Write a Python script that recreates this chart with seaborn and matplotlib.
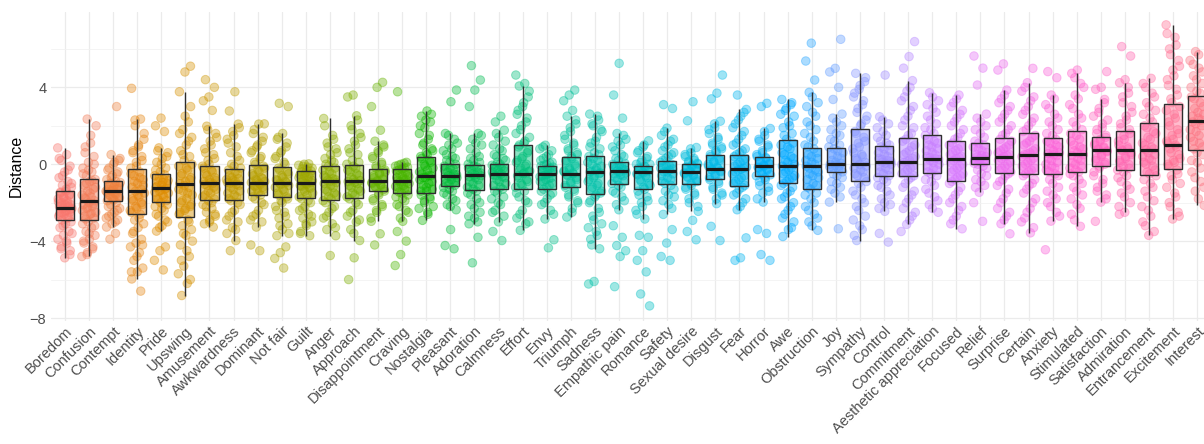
import math
import numpy as np
import pandas as pd
import matplotlib
matplotlib.use("Agg")
import matplotlib.pyplot as plt
from matplotlib.ticker import FixedLocator
import seaborn as sns

# Emotion categories, ordered by median distance
emotions = [
    "Boredom", "Confusion", "Contempt", "Identity", "Pride", "Upswing", "Amusement",
    "Awkwardness", "Dominant", "Not fair", "Guilt", "Anger", "Approach", "Disappointment",
    "Craving", "Nostalgia", "Pleasant", "Adoration", "Calmness", "Effort", "Envy",
    "Triumph", "Sadness", "Empathic pain", "Romance", "Safety", "Sexual desire", "Disgust",
    "Fear", "Horror", "Awe", "Obstruction", "Joy", "Sympathy", "Control", "Commitment",
    "Aesthetic appreciation", "Focused", "Relief", "Surprise", "Certain", "Anxiety",
    "Stimulated", "Satisfaction", "Admiration", "Entrancement", "Excitement", "Interest",
]

# Box summaries: whisker ends, quartiles and medians
whisker_low = [-4.87, -4.80, -3.27, -5.97, -3.48, -6.83, -3.27, -3.97, -3.27, -3.72, -3.72, -3.72,
               -3.97, -2.97, -2.97, -2.92, -2.37, -3.10, -3.00, -3.44, -2.85, -2.75, -4.40, -2.37,
               -2.85, -2.61, -2.45, -2.05, -2.37, -1.97, -3.76, -3.44, -1.97, -3.97, -2.45, -3.13,
               -2.50, -3.36, -1.46, -3.10, -3.57, -2.96, -3.23, -1.97, -2.50, -3.70, -2.85, -2.14]
lower_quartile = [-2.89, -2.89, -1.93, -2.57, -1.95, -2.75, -1.88, -1.88, -1.58, -1.70, -1.77, -1.88,
                  -1.77, -1.39, -1.50, -1.50, -1.15, -1.32, -1.27, -1.27, -1.27, -1.18, -1.57, -1.01,
                  -1.27, -1.01, -1.01, -0.77, -1.15, -0.63, -0.97, -1.27, -0.42, -0.89, -0.63, -0.63,
                  -0.45, -0.89, 0.00, -0.45, -0.52, -0.52, -0.43, -0.07, -0.31, -0.54, -0.26, 0.73]
medians = [-2.26, -1.90, -1.37, -1.37, -1.22, -1.04, -0.99, -0.99, -0.99, -0.99, -0.96, -0.89,
           -0.89, -0.85, -0.85, -0.63, -0.61, -0.56, -0.49, -0.49, -0.49, -0.49, -0.40, -0.35,
           -0.40, -0.35, -0.40, -0.23, -0.23, -0.09, -0.10, -0.10, 0.00, 0.00, 0.14, 0.14,
           0.26, 0.26, 0.31, 0.38, 0.47, 0.52, 0.52, 0.73, 0.73, 0.73, 0.99, 2.26]
upper_quartile = [-1.37, -0.75, -0.87, -0.26, -0.52, 0.10, -0.10, -0.26, -0.05, -0.14, -0.37, -0.10,
                  -0.02, -0.26, -0.26, 0.38, 0.03, -0.05, 0.00, 0.99, -0.10, 0.38, 0.42, 0.10,
                  -0.10, 0.19, 0.00, 0.50, 0.50, 0.38, 1.25, 0.87, 0.87, 1.83, 0.97, 1.39,
                  1.51, 1.22, 1.13, 1.39, 1.65, 1.39, 1.74, 1.43, 1.74, 2.12, 3.11, 3.55]
whisker_high = [0.85, 2.35, 0.50, 2.35, 0.85, 3.77, 1.98, 2.09, 2.09, 1.60, 0.02, 2.38,
                2.52, 1.20, 0.10, 2.77, 1.60, 1.60, 1.77, 4.07, 0.99, 2.50, 2.61, 1.60,
                1.22, 1.88, 0.87, 2.24, 2.85, 1.86, 3.37, 3.74, 2.61, 4.73, 2.47, 4.35,
                3.72, 3.60, 2.61, 3.86, 4.24, 3.60, 4.73, 3.37, 4.24, 4.47, 7.25, 5.86]

# Individual distances per emotion
distances = [
    "0.85 0.5 0.2 -0.1 -0.4 -0.7 -0.9 -1.1 -1.2 -1.4 -1.5 -1.6 -1.7 -1.8 -1.9 -2.0 -2.1 -2.1 -2.2 -2.2 -2.3 -2.3 -2.4 -2.5 -2.5 -2.6 -2.7 -2.8 -2.9 -3.0 -3.1 -3.3 -3.5 -3.7 -3.9 -4.1 -4.3 -4.5 -4.87 "
    "0.3 -0.3 -0.6 -1.0 -1.3 -1.45 -1.6 -1.75 -1.95 -2.05 -2.15 -2.35 -2.45 -2.6 -2.75 -3.2 -3.6 -4.0 -4.4 -4.7",
    "2.35 2.0 1.1 0.6 0.4 0.1 -0.2 -0.4 -0.6 -0.8 -0.9 -1.1 -1.3 -1.4 -1.6 -1.7 -1.8 -1.9 -2.0 -2.1 -2.2 -2.3 -2.5 -2.6 -2.7 -2.8 -3.0 -3.1 -3.3 -3.5 -3.7 -3.9 -4.1 -4.3 -4.6 -4.8 "
    "1.5 0.9 0.0 -0.3 -0.5 -0.85 -1.0 -1.2 -1.5 -1.75 -2.05 -2.25 -2.4 -2.55 -2.85 -3.2 -3.6 -4.0 -4.4 -4.7",
    "3.0 0.5 0.3 0.1 -0.2 -0.4 -0.6 -0.8 -0.9 -1.0 -1.1 -1.2 -1.3 -1.3 -1.4 -1.4 -1.5 -1.6 -1.7 -1.8 -1.9 -2.0 -2.1 -2.3 -2.5 -2.7 -2.9 -3.1 -3.27 -3.6 -3.9 "
    "0.2 0.0 -0.3 -0.5 -0.7 -0.95 -1.05 -1.15 -1.25 -1.35 -1.45 -1.55 -1.65 -1.75 -1.85 -2.2 -2.4 -2.6 -2.8 -3.0",
    "3.95 2.35 2.3 1.3 0.9 0.6 0.4 0.1 -0.2 -0.4 -0.6 -0.8 -1.0 -1.2 -1.3 -1.4 -1.5 -1.7 -1.9 -2.1 -2.3 -2.5 -2.6 -2.9 -3.1 -3.3 -3.6 -3.9 -4.1 -4.3 -4.6 -5.0 -5.4 -5.6 -5.97 -6.6 "
    "2.0 1.6 1.0 0.7 0.2 -0.1 -0.5 -0.7 -0.9 -1.1 -1.6 -1.8 -2.0 -2.2 -2.4 -2.8 -3.5 -4.2 -4.8 -5.6",
    "2.4 2.0 1.7 0.85 0.6 0.3 0.1 -0.2 -0.4 -0.6 -0.8 -0.9 -1.0 -1.1 -1.2 -1.3 -1.4 -1.5 -1.6 -1.8 -1.9 -2.0 -2.2 -2.4 -2.7 -3.0 -3.2 -3.48 -4.3 -4.5 -5.0 -5.5 "
    "0.7 0.4 0.0 -0.3 -0.55 -0.7 -0.85 -0.95 -1.15 -1.25 -1.35 -1.45 -1.7 -1.85 -2.1 -2.3 -2.6 -2.9 -3.3",
    "5.1 4.8 3.77 2.2 1.8 1.4 1.0 0.7 0.4 0.2 -0.1 -0.3 -0.5 -0.7 -0.9 -1.0 -1.2 -1.4 -1.6 -1.8 -2.0 -2.2 -2.4 -2.6 -2.9 -3.2 -3.4 -3.7 -4.2 -4.8 -5.3 -5.7 -6.2 -6.83 "
    "3.0 2.5 1.6 1.2 0.5 0.0 -0.2 -0.6 -0.8 -1.1 -1.3 -1.5 -1.9 -2.1 -2.3 -2.5 -3.0 -3.6 -4.0 -4.5 -5.0 -6.0",
    "4.4 4.0 3.5 3.3 2.8 1.98 1.6 1.2 0.8 0.5 0.2 -0.1 -0.3 -0.5 -0.7 -0.8 -0.9 -1.0 -1.1 -1.3 -1.5 -1.6 -1.8 -1.9 -2.1 -2.3 -2.5 -2.7 -2.9 -3.1 -3.27 "
    "1.8 1.4 1.0 0.6 0.3 0.0 -0.2 -0.4 -0.6 -0.85 -0.95 -1.05 -1.2 -1.4 -1.7 -2.0 -2.2 -2.6 -3.0",
    "3.77 2.77 2.09 1.7 1.3 0.9 0.6 0.2 -0.1 -0.3 -0.5 -0.7 -0.8 -0.9 -1.0 -1.1 -1.3 -1.5 -1.7 -1.9 -2.1 -2.4 -2.7 -3.0 -3.3 -3.6 -3.97 -4.5 "
    "1.9 1.5 1.1 0.4 0.0 -0.2 -0.4 -0.6 -0.75 -0.85 -0.95 -1.05 -1.2 -1.4 -1.6 -1.8 -2.0 -2.5 -2.9 -3.4",
    "2.1 2.09 1.6 1.2 0.9 0.6 0.3 0.1 -0.1 -0.3 -0.5 -0.7 -0.8 -0.9 -1.0 -1.1 -1.2 -1.3 -1.4 -1.6 -1.8 -2.1 -2.4 -2.7 -3.0 -3.27 -4.2 -4.5 "
    "1.8 1.4 1.0 0.7 0.4 0.0 -0.2 -0.4 -0.6 -0.75 -0.85 -0.95 -1.05 -1.15 -1.3 -1.5 -1.7 -2.0 -2.6 -2.9",
    "3.17 3.0 1.6 1.3 0.9 0.6 0.3 0.1 -0.2 -0.4 -0.6 -0.8 -0.9 -1.0 -1.1 -1.3 -1.5 -1.7 -1.9 -2.2 -2.5 -2.8 -3.1 -3.4 -3.72 -4.3 -4.6 -4.9 -5.4 "
    "1.4 1.1 0.7 0.4 0.0 -0.3 -0.5 -0.7 -0.85 -0.95 -1.05 -1.2 -1.4 -1.6 -1.8 -2.0 -2.4 -2.7 -3.2 -3.6",
    "0.02 -0.1 -0.2 -0.3 -0.4 -0.5 -0.6 -0.7 -0.8 -0.9 -0.95 -1.0 -1.1 -1.2 -1.3 -1.5 -1.6 -1.8 -2.0 -2.2 -2.4 -2.6 -2.8 -3.0 -3.2 -3.5 -3.72 "
    "0.0 -0.05 -0.15 -0.25 -0.35 -0.45 -0.55 -0.65 -0.75 -0.85 -1.05 -1.15 -1.25 -1.4 -1.7 -1.9 -2.3 -2.7 -3.1 -3.6",
    "2.38 1.5 1.1 0.8 0.5 0.3 0.1 -0.1 -0.3 -0.5 -0.7 -0.8 -0.9 -1.0 -1.2 -1.4 -1.6 -1.8 -2.0 -2.2 -2.5 -2.8 -3.1 -3.4 -3.72 -4.75 "
    "2.0 1.3 0.9 0.6 0.2 0.0 -0.2 -0.4 -0.6 -0.75 -0.85 -0.95 -1.1 -1.3 -1.5 -1.7 -1.9 -2.3 -2.7 -3.3",
    "3.6 3.5 2.52 2.0 1.6 1.2 0.8 0.5 0.2 0.0 -0.2 -0.4 -0.6 -0.8 -0.9 -1.0 -1.2 -1.4 -1.6 -1.8 -2.1 -2.4 -2.7 -3.0 -3.4 -3.97 -4.87 -6.0 "
    "2.3 1.8 1.4 1.0 0.6 0.1 -0.1 -0.3 -0.5 -0.7 -0.85 -0.95 -1.1 -1.3 -1.5 -1.7 -2.0 -2.5 -2.9 -3.6",
    "4.26 4.0 3.0 1.77 1.2 0.9 0.6 0.3 0.0 -0.2 -0.4 -0.5 -0.7 -0.8 -0.9 -1.0 -1.1 -1.2 -1.4 -1.6 -1.9 -2.2 -2.5 -2.97 -3.62 -4.2 "
    "1.0 0.7 0.4 0.1 -0.1 -0.3 -0.45 -0.6 -0.75 -0.85 -0.95 -1.05 -1.15 -1.3 -1.5 -1.8 -2.1 -2.4 -2.8",
    "3.77 0.1 0.0 -0.1 -0.2 -0.3 -0.5 -0.6 -0.7 -0.8 -0.9 -1.0 -1.1 -1.2 -1.4 -1.5 -1.7 -1.9 -2.2 -2.5 -2.97 -3.5 -4.0 -4.7 -5.27 "
    "0.05 -0.05 -0.15 -0.25 -0.35 -0.45 -0.55 -0.65 -0.75 -0.85 -0.95 -1.05 -1.15 -1.3 -1.45 -1.6 -1.8 -2.1 -2.4 -2.8",
    "2.77 2.5 2.2 1.9 1.6 1.3 1.0 0.8 0.6 0.4 0.2 0.0 -0.2 -0.3 -0.5 -0.6 -0.7 -0.8 -1.0 -1.1 -1.3 -1.4 -1.6 -1.8 -2.0 -2.3 -2.6 -2.92 "
    "2.6 2.3 2.0 1.5 1.1 0.7 0.5 0.3 0.1 -0.1 -0.4 -0.6 -0.7 -0.9 -1.2 -1.4 -1.7 -1.9 -2.2 -2.5",
    "3.86 3.25 1.6 1.3 1.0 0.7 0.4 0.2 0.0 -0.2 -0.3 -0.5 -0.6 -0.7 -0.8 -1.0 -1.1 -1.3 -1.5 -1.8 -2.1 -2.37 -3.4 -4.23 -4.4 "
    "1.5 1.1 0.8 0.5 0.3 0.1 -0.1 -0.25 -0.4 -0.55 -0.65 -0.75 -0.9 -1.05 -1.2 -1.4 -1.6 -1.9 -2.2",
    "5.13 4.38 3.86 3.0 1.6 1.3 1.0 0.6 0.3 0.1 -0.1 -0.2 -0.4 -0.5 -0.6 -0.7 -0.9 -1.1 -1.3 -1.5 -1.8 -2.1 -2.5 -2.8 -3.1 -3.8 -5.13 "
    "1.5 1.1 0.8 0.4 0.2 0.0 -0.15 -0.3 -0.45 -0.55 -0.65 -0.8 -1.0 -1.2 -1.4 -1.6 -2.0 -2.3 -2.7 -3.0",
    "2.5 2.2 1.77 1.4 1.0 0.7 0.4 0.2 0.0 -0.1 -0.2 -0.3 -0.4 -0.5 -0.6 -0.7 -0.9 -1.1 -1.3 -1.5 -1.8 -2.1 -2.4 -2.7 -3.0 -3.5 -3.97 "
    "1.6 1.2 0.8 0.5 0.3 0.1 -0.05 -0.15 -0.25 -0.35 -0.45 -0.55 -0.65 -0.8 -1.0 -1.2 -1.4 -1.7 -2.0 -2.5",
    "4.64 4.2 4.07 3.5 3.0 2.6 2.2 1.8 1.4 1.1 0.9 0.6 0.3 0.1 -0.1 -0.3 -0.4 -0.5 -0.6 -0.8 -1.0 -1.2 -1.4 -1.7 -2.0 -2.4 -2.8 -3.1 -3.44 "
    "3.8 3.2 2.8 2.4 2.0 1.6 1.2 1.0 0.7 0.4 0.2 0.0 -0.2 -0.35 -0.45 -0.7 -0.9 -1.1 -1.5 -1.9 -2.6 -3.0",
    "0.99 0.8 0.5 0.3 0.1 0.0 -0.1 -0.2 -0.3 -0.4 -0.5 -0.6 -0.7 -0.8 -0.9 -1.1 -1.3 -1.5 -1.8 -2.1 -2.4 -2.85 -3.93 -4.35 "
    "0.9 0.7 0.4 0.2 0.05 -0.05 -0.15 -0.25 -0.35 -0.45 -0.55 -0.65 -0.75 -0.9 -1.0 -1.2 -1.4 -1.6 -2.0 -2.6",
    "3.86 3.6 3.3 2.8 2.5 2.1 1.7 1.3 1.0 0.7 0.5 0.3 0.1 -0.1 -0.3 -0.4 -0.5 -0.6 -0.8 -1.0 -1.2 -1.4 -1.7 -2.0 -2.3 -2.75 "
    "2.3 1.9 1.5 1.1 0.8 0.6 0.4 0.2 0.0 -0.2 -0.35 -0.45 -0.55 -0.7 -0.9 -1.1 -1.3 -1.6 -1.9 -2.5",
    "2.61 2.3 2.0 1.7 1.4 1.1 0.8 0.6 0.4 0.2 0.0 -0.1 -0.3 -0.4 -0.5 -0.7 -0.9 -1.1 -1.3 -1.5 -1.7 -2.0 -2.3 -2.7 -3.1 -3.5 -3.9 -4.4 -6.1 -6.23 "
    "2.5 2.1 1.8 1.2 0.9 0.5 0.3 0.1 -0.2 -0.35 -0.45 -0.6 -0.8 -1.0 -1.2 -1.4 -1.6 -1.9 -2.5 -2.9 -3.3 -3.7 -4.2",
    "5.25 3.6 2.4 1.6 1.3 1.0 0.7 0.4 0.2 0.0 -0.1 -0.2 -0.3 -0.4 -0.5 -0.6 -0.8 -1.0 -1.2 -1.5 -1.9 -2.37 -3.2 -3.8 -4.23 -4.5 -4.8 -6.37 "
    "1.5 1.2 0.9 0.5 0.3 0.05 -0.05 -0.15 -0.25 -0.35 -0.45 -0.55 -0.7 -0.9 -1.1 -1.4 -1.7 -2.1",
    "1.22 0.9 0.6 0.3 0.1 0.0 -0.1 -0.2 -0.3 -0.4 -0.5 -0.6 -0.8 -1.0 -1.2 -1.4 -1.7 -2.0 -2.4 -2.85 -3.7 -3.8 -4.5 -5.0 -5.6 -6.75 -7.37 "
    "1.0 0.7 0.4 0.2 0.0 -0.15 -0.25 -0.35 -0.45 -0.55 -0.7 -0.9 -1.1 -1.3 -1.6 -1.9 -2.2 -2.6",
    "3.1 2.9 1.88 1.5 1.2 0.9 0.6 0.4 0.2 0.0 -0.1 -0.2 -0.3 -0.4 -0.5 -0.7 -0.9 -1.1 -1.4 -1.7 -2.1 -2.61 -3.4 -4.1 -4.8 -5.0 "
    "1.7 1.3 1.0 0.7 0.5 0.3 0.1 -0.05 -0.15 -0.25 -0.4 -0.6 -0.8 -1.0 -1.3 -1.6 -1.9 -2.3",
    "3.25 2.26 0.87 0.6 0.4 0.2 0.1 0.0 -0.1 -0.2 -0.3 -0.4 -0.5 -0.6 -0.7 -0.9 -1.1 -1.3 -1.6 -2.0 -2.45 -2.92 -3.5 -3.93 "
    "0.8 0.5 0.3 0.15 0.05 -0.05 -0.15 -0.25 -0.35 -0.45 -0.55 -0.65 -0.8 -1.0 -1.2 -1.5 -1.8 -2.2",
    "4.64 3.7 3.4 2.24 1.9 1.6 1.3 1.0 0.8 0.6 0.4 0.2 0.1 -0.1 -0.2 -0.3 -0.4 -0.6 -0.8 -1.0 -1.3 -1.6 -2.05 -3.23 -3.97 "
    "2.1 1.8 1.4 1.1 0.9 0.7 0.5 0.3 0.15 0.0 -0.15 -0.25 -0.35 -0.5 -0.7 -0.9 -1.2 -1.5 -1.8",
    "3.6 2.85 2.5 2.1 1.7 1.3 1.0 0.7 0.5 0.3 0.1 -0.1 -0.2 -0.3 -0.5 -0.7 -0.9 -1.1 -1.3 -1.6 -2.0 -2.37 -3.83 -4.87 -5.0 "
    "2.7 2.3 1.9 1.5 1.1 0.8 0.6 0.4 0.2 0.0 -0.15 -0.25 -0.4 -0.6 -0.8 -1.0 -1.2 -1.5 -1.8 -2.2",
    "3.17 3.0 1.86 1.5 1.2 0.9 0.6 0.4 0.3 0.1 0.0 -0.1 -0.2 -0.3 -0.5 -0.6 -0.8 -1.1 -1.4 -1.97 -3.4 -3.6 -4.7 -5.0 "
    "1.7 1.3 1.0 0.7 0.5 0.35 0.2 0.05 -0.05 -0.15 -0.25 -0.4 -0.55 -0.7 -0.9 -1.2 -1.5 -1.8",
    "3.37 3.1 2.8 2.5 2.2 1.9 1.6 1.3 1.0 0.8 0.5 0.3 0.1 -0.1 -0.2 -0.4 -0.6 -0.8 -1.0 -1.2 -1.5 -1.8 -2.2 -2.6 -3.0 -3.4 -3.76 "
    "3.2 2.9 2.6 2.0 1.5 1.1 0.9 0.6 0.4 0.2 0.0 -0.3 -0.5 -0.7 -0.9 -1.1 -1.4 -1.7 -2.0 -2.4 -2.8 -3.3",
    "6.3 5.37 4.38 3.74 3.2 2.7 2.2 1.8 1.4 1.0 0.8 0.5 0.3 0.1 -0.1 -0.3 -0.5 -0.7 -1.0 -1.2 -1.5 -1.8 -2.2 -2.6 -3.0 -3.44 "
    "3.5 3.0 2.5 2.0 1.6 1.2 0.9 0.6 0.4 0.2 0.0 -0.2 -0.4 -0.6 -0.8 -1.1 -1.3 -1.6 -2.0 -2.4 -2.8 -3.2",
    "6.5 4.99 4.8 4.0 3.37 2.61 2.2 1.8 1.5 1.2 0.9 0.7 0.5 0.3 0.1 0.0 -0.1 -0.2 -0.4 -0.6 -0.9 -1.2 -1.5 -1.97 -3.36 "
    "2.4 2.0 1.6 1.3 1.0 0.8 0.6 0.4 0.2 0.05 -0.05 -0.15 -0.3 -0.5 -0.7 -1.0 -1.3 -1.7",
    "4.73 4.3 3.9 3.5 3.1 2.7 2.3 2.0 1.7 1.4 1.1 0.8 0.5 0.3 0.1 0.0 -0.2 -0.4 -0.6 -0.9 -1.2 -1.6 -2.0 -2.4 -2.9 -3.4 -3.97 "
    "4.5 4.1 3.7 3.3 2.9 2.5 2.1 1.6 1.2 0.9 0.6 0.4 0.2 -0.1 -0.3 -0.5 -0.7 -1.0 -1.4 -1.8 -2.2 -2.7 -3.2 -3.7",
    "4.64 2.47 2.1 1.7 1.4 1.1 0.9 0.7 0.5 0.3 0.2 0.1 0.0 -0.2 -0.4 -0.6 -0.8 -1.1 -1.4 -1.8 -2.1 -2.45 -3.6 -4.05 "
    "2.3 1.9 1.5 1.2 1.0 0.8 0.6 0.4 0.25 0.15 0.05 -0.1 -0.3 -0.5 -0.7 -0.9 -1.2 -1.6 -2.0 -2.3",
    "6.38 5.6 5.0 4.35 3.8 3.3 2.8 2.3 1.9 1.5 1.2 0.9 0.6 0.4 0.2 0.1 -0.1 -0.3 -0.5 -0.7 -1.0 -1.4 -1.8 -2.3 -2.7 -3.13 -3.5 "
    "4.0 3.5 3.0 2.5 2.0 1.6 1.3 1.0 0.7 0.5 0.3 0.15 0.0 -0.2 -0.4 -0.6 -0.8 -1.2 -1.6 -2.0 -2.5 -2.9",
    "3.72 3.3 2.9 2.5 2.1 1.8 1.5 1.2 1.0 0.8 0.6 0.4 0.3 0.2 0.0 -0.2 -0.4 -0.6 -0.9 -1.3 -1.7 -2.1 -2.5 "
    "3.5 3.1 2.7 2.3 1.9 1.6 1.3 1.1 0.9 0.7 0.5 0.35 0.25 0.1 -0.1 -0.3 -0.5 -0.8 -1.1 -1.5 -1.9 -2.3",
    "3.6 3.2 2.8 2.4 2.0 1.6 1.3 1.0 0.8 0.6 0.4 0.3 0.1 -0.1 -0.3 -0.5 -0.7 -0.9 -1.2 -1.6 -2.0 -2.4 -2.9 -3.36 "
    "3.4 3.0 2.6 2.2 1.8 1.4 1.1 0.9 0.7 0.5 0.35 0.2 0.0 -0.2 -0.4 -0.6 -0.8 -1.0 -1.4 -1.8 -2.2 -2.7 -3.1",
    "5.63 5.0 4.12 2.61 2.2 1.8 1.4 1.1 0.9 0.7 0.5 0.4 0.3 0.2 0.1 0.0 -0.2 -0.5 -0.8 -1.1 -1.46 -2.0 -2.97 "
    "2.4 2.0 1.6 1.2 1.0 0.8 0.6 0.45 0.35 0.25 0.15 0.05 -0.1 -0.3 -0.6 -0.9 -1.2",
    "5.22 4.9 3.86 3.4 3.0 2.6 2.2 1.8 1.5 1.2 0.9 0.7 0.5 0.4 0.2 0.0 -0.2 -0.4 -0.6 -0.9 -1.3 -1.8 -2.3 -2.7 -3.1 -3.62 "
    "3.6 3.2 2.8 2.4 2.0 1.6 1.3 1.0 0.8 0.6 0.45 0.3 0.1 -0.1 -0.3 -0.5 -0.8 -1.1 -1.5 -2.0 -2.5 -2.9",
    "4.99 4.24 3.8 3.3 2.8 2.4 2.0 1.7 1.4 1.1 0.8 0.6 0.5 0.3 0.1 -0.1 -0.3 -0.5 -0.8 -1.1 -1.5 -2.0 -2.5 -3.0 -3.57 "
    "4.0 3.5 3.0 2.6 2.2 1.8 1.5 1.2 1.0 0.7 0.55 0.4 0.2 0.0 -0.2 -0.4 -0.6 -1.0 -1.3 -1.8 -2.3 -2.8 -3.3",
    "4.82 4.5 3.6 3.1 2.6 2.2 1.8 1.5 1.2 1.0 0.8 0.6 0.5 0.3 0.1 -0.1 -0.3 -0.5 -0.8 -1.2 -1.6 -2.0 -2.5 -2.96 -4.45 "
    "3.4 2.9 2.4 2.0 1.6 1.3 1.1 0.9 0.7 0.55 0.45 0.2 0.0 -0.2 -0.4 -0.6 -1.0 -1.4 -1.8 -2.2 -2.7",
    "4.9 4.73 4.2 3.6 3.1 2.6 2.2 1.8 1.5 1.2 0.9 0.7 0.5 0.3 0.1 -0.1 -0.3 -0.5 -0.8 -1.2 -1.6 -2.1 -2.6 -3.23 "
    "4.5 4.0 3.4 2.9 2.4 2.0 1.6 1.3 1.0 0.8 0.6 0.45 0.2 0.0 -0.2 -0.4 -0.6 -1.0 -1.4 -1.8 -2.3 -2.9",
    "4.82 4.0 3.9 3.37 2.9 2.5 2.1 1.8 1.5 1.3 1.1 0.9 0.8 0.7 0.5 0.3 0.1 -0.1 -0.4 -0.8 -1.2 -1.6 -1.97 -2.97 "
    "3.2 2.7 2.3 1.9 1.6 1.4 1.2 1.0 0.85 0.75 0.65 0.4 0.2 0.0 -0.2 -0.6 -1.0 -1.4 -1.8",
    "6.12 5.63 4.4 4.24 3.7 3.2 2.7 2.3 1.9 1.6 1.3 1.0 0.8 0.7 0.5 0.3 0.1 -0.2 -0.4 -0.7 -1.1 -1.5 -2.0 -2.5 -2.6 "
    "4.0 3.5 3.0 2.5 2.1 1.8 1.5 1.2 0.9 0.75 0.6 0.4 0.2 0.0 -0.1 -0.3 -0.6 -0.9 -1.3 -1.7 -2.2",
    "4.47 4.0 3.5 3.0 2.6 2.2 1.9 1.6 1.3 1.0 0.8 0.6 0.4 0.2 0.0 -0.3 -0.5 -0.8 -1.2 -1.7 -2.2 -2.7 -3.2 -3.5 -3.7 "
    "4.2 3.7 3.2 2.8 2.4 2.0 1.7 1.4 1.1 0.9 0.75 0.5 0.3 0.1 -0.1 -0.4 -0.6 -1.0 -1.4 -1.9 -2.4 -3.0",
    "7.25 6.6 6.0 5.4 4.9 4.4 3.9 3.4 3.0 2.6 2.2 1.8 1.5 1.2 1.0 0.8 0.5 0.2 0.0 -0.3 -0.6 -1.0 -1.5 -2.0 -2.5 -2.85 "
    "6.8 6.2 5.7 5.1 4.6 4.1 3.6 3.2 2.8 2.4 2.0 1.6 1.3 1.1 0.9 0.6 0.3 0.1 -0.1 -0.5 -0.8 -1.2 -1.7 -2.2 -2.7",
    "5.86 5.4 5.0 4.6 4.2 3.8 3.5 3.2 2.9 2.6 2.4 2.2 2.0 1.7 1.4 1.1 0.8 0.5 0.1 -0.4 -0.9 -1.4 -2.14 "
    "5.7 5.2 4.8 4.4 4.0 3.7 3.4 3.0 2.7 2.5 2.3 2.1 1.8 1.5 1.2 0.9 0.6 0.2 -0.2 -0.7 -1.2 -1.8",
]


def hcl_hex(h, c=100.0, l=65.0):
    """Polar CIE-Luv (HCL) to sRGB hex, D65 white."""
    xn, yn, zn = 95.047, 100.0, 108.883
    un = 4 * xn / (xn + 15 * yn + 3 * zn)
    vn = 9 * yn / (xn + 15 * yn + 3 * zn)
    u_ = c * math.cos(math.radians(h))
    v_ = c * math.sin(math.radians(h))
    y = yn * ((l + 16) / 116) ** 3 if l > 8 else yn * l / 903.3
    u = u_ / (13 * l) + un
    v = v_ / (13 * l) + vn
    x = 9 * y * u / (4 * v)
    z = -x / 3 - 5 * y + 3 * y / v
    x, y, z = x / 100, y / 100, z / 100
    rgb_lin = [3.240479 * x - 1.537150 * y - 0.498535 * z,
               -0.969256 * x + 1.875992 * y + 0.041556 * z,
               0.055648 * x - 0.204043 * y + 1.057311 * z]
    out = []
    for ch in rgb_lin:
        ch = 12.92 * ch if ch <= 0.0031308 else 1.055 * ch ** (1 / 2.4) - 0.055
        out.append(min(max(ch, 0.0), 1.0))
    return "#%02x%02x%02x" % tuple(int(round(255 * ch)) for ch in out)


n = len(emotions)
palette = {e: hcl_hex(15 + 360 * i / n) for i, e in enumerate(emotions)}

# Long tables for the boxes and the points
box_df = pd.DataFrame({
    "emotion": np.repeat(emotions, 5),
    "distance": np.ravel(np.column_stack([whisker_low, lower_quartile, medians,
                                          upper_quartile, whisker_high])),
})

rows = []
for i, (e, s) in enumerate(zip(emotions, distances)):
    for k, val in enumerate(s.split()):
        offset = ((k * 0.6180339887 + i * 0.37) % 1.0 - 0.5) * 0.6
        rows.append((e, i + offset, float(val)))
pts_df = pd.DataFrame(rows, columns=["emotion", "xpos", "distance"])

sns.set_theme(style="whitegrid")
plt.rcParams["font.family"] = ["Liberation Sans", "DejaVu Sans"]

fig = plt.figure(figsize=(12.04, 4.44), dpi=100)
ax = fig.add_axes([50.5 / 1204, (444 - 320.5) / 444, 1161.1 / 1204, 308.5 / 444])

sns.boxplot(
    data=box_df, x="emotion", y="distance", hue="emotion", order=emotions,
    hue_order=emotions, palette=palette, saturation=1, legend=False, whis=np.inf,
    width=0.75, showcaps=False, showfliers=False, linewidth=1.0, linecolor="#2e2e2e",
    medianprops=dict(color="#1a1a1a", linewidth=2.3), ax=ax,
)
for patch in ax.patches:
    fc = patch.get_facecolor()
    patch.set_facecolor((fc[0], fc[1], fc[2], 0.45))
    patch.set_zorder(2)
for line in ax.lines:
    line.set_zorder(3)

sns.scatterplot(
    data=pts_df, x="xpos", y="distance", hue="emotion", hue_order=emotions,
    palette=palette, legend=False, s=38, alpha=0.38, edgecolor="face",
    linewidth=0.7, zorder=1, ax=ax,
)

ax.set_xlim(-0.6, n - 0.4)
ax.set_ylim(-8.13, 7.92)
ax.set_xticks(range(n))
ax.set_xticklabels(emotions, rotation=45, ha="right", rotation_mode="anchor")
ax.set_yticks([-8, -4, 0, 4])
ax.yaxis.set_minor_locator(FixedLocator([-6, -2, 2, 6]))

ax.set_axisbelow(True)
ax.grid(True, which="major", axis="both", color="#ebebeb", linewidth=0.9)
ax.grid(True, which="minor", axis="y", color="#f2f2f2", linewidth=0.6)
for sp in ax.spines.values():
    sp.set_visible(False)

ax.tick_params(axis="both", which="both", length=0, labelsize=10.5, labelcolor="#4d4d4d")
ax.tick_params(axis="x", pad=2.5)
ax.tick_params(axis="y", pad=3)
ax.set_xlabel("")
ax.set_ylabel("Distance", fontsize=11.5, color="black", labelpad=4)

fig.savefig("out.png", dpi=100)
